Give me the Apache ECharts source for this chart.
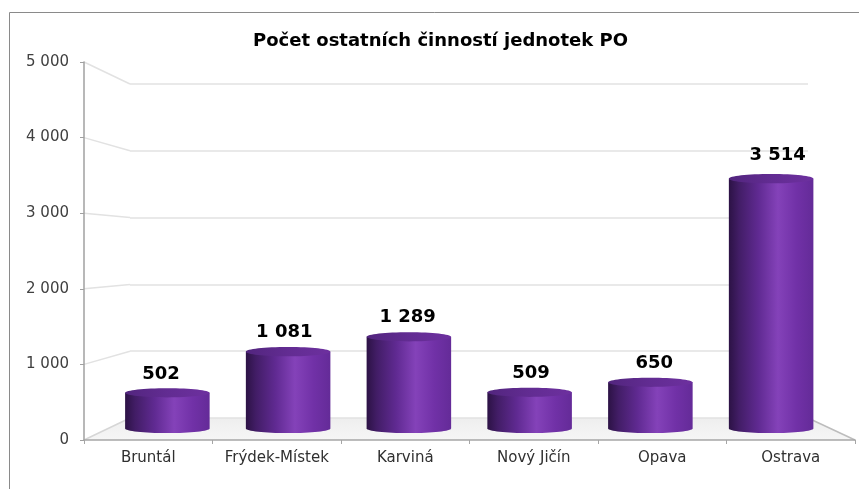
<!DOCTYPE html>
<html>
<head>
<meta charset="utf-8">
<script src="https://cdn.jsdelivr.net/npm/echarts@6/dist/echarts.min.js"></script>
<style>
  html, body { margin: 0; padding: 0; background: #ffffff; }
  #chart { width: 859px; height: 489px; }
</style>
</head>
<body>
<div id="chart"></div>
<script>
// Chart data
const chartTitle = 'Počet ostatních činností jednotek PO';
const categories = ['Bruntál', 'Frýdek-Místek', 'Karviná', 'Nový Jičín', 'Opava', 'Ostrava'];
const values = [502, 1081, 1289, 509, 650, 3514];
const valueLabels = ['502', '1 081', '1 289', '509', '650', '3 514'];
const yTickValues = [0, 1000, 2000, 3000, 4000, 5000];
const yTickLabels = ['0', '1 000', '2 000', '3 000', '4 000', '5 000'];

const FONT = '"DejaVu Sans", "Liberation Sans", sans-serif';
const Y_MIN = 0, Y_MAX = 5000, Y_STEP = 1000;

// Pseudo-3D layout: front plane (visible axes), back wall, mid plane
// for the cylinder bodies and a plane for the value labels.
const W = 859, H = 489;
const frontPlane = { left: 84, right: 4, top: 62, bottom: 49 };
const backPlane  = { left: 130, right: 51, top: 84, bottom: 71 };
const midPlane   = { left: 107, right: 27.5, top: 73, bottom: 60.5 };
const labelPlane = { left: 99.3, right: 19.7, top: 69.3, bottom: 57 };

const chart = echarts.init(document.getElementById('chart'), null, { renderer: 'canvas' });

const hiddenCat = (grid) => ({
  type: 'category', gridIndex: grid, data: categories, boundaryGap: true, show: false
});
const hiddenVal = (grid, extra) => Object.assign({
  type: 'value', gridIndex: grid, min: Y_MIN, max: Y_MAX, interval: Y_STEP,
  axisLine: { show: false }, axisTick: { show: false }, axisLabel: { show: false },
  splitLine: { show: false }
}, extra || {});

const bodyGradient = () => new echarts.graphic.LinearGradient(0, 0, 1, 0, [
  { offset: 0.00, color: '#2c1245' },
  { offset: 0.12, color: '#421d66' },
  { offset: 0.35, color: '#602a92' },
  { offset: 0.58, color: '#8442b9' },
  { offset: 0.80, color: '#7131a7' },
  { offset: 1.00, color: '#642b98' }
]);
const topGradient = () => new echarts.graphic.LinearGradient(0, 0, 1, 0, [
  { offset: 0.0, color: '#52257e' },
  { offset: 0.5, color: '#622c92' },
  { offset: 1.0, color: '#6d309f' }
]);

function renderCylinder(params, api) {
  const idx = api.value(0);
  const v = api.value(1);
  const base = api.coord([idx, 0]);
  const top = api.coord([idx, v]);
  const w = api.size([1, 0])[0] * 0.7;
  const rx = w / 2, ry = 4.6;
  return {
    type: 'group',
    children: [
      { type: 'ellipse', shape: { cx: base[0], cy: base[1], rx: rx, ry: ry },
        style: { fill: bodyGradient() } },
      { type: 'rect', shape: { x: base[0] - rx, y: top[1], width: w, height: base[1] - top[1] },
        style: { fill: bodyGradient() } },
      { type: 'ellipse', shape: { cx: top[0], cy: top[1], rx: rx, ry: ry },
        style: { fill: topGradient() } }
    ]
  };
}

function renderValueLabel(params, api) {
  const p = api.coord([api.value(0), api.value(1)]);
  return {
    type: 'text',
    x: p[0],
    y: p[1] - 21.6,
    style: {
      text: valueLabels[params.dataIndex],
      fill: '#000000',
      font: 'bold 18px ' + FONT,
      align: 'center', verticalAlign: 'middle',
      textAlign: 'center', textVerticalAlign: 'middle'
    }
  };
}

const seriesData = values.map((v, i) => [i, v]);

chart.setOption({
  animation: false,
  backgroundColor: '#ffffff',
  grid: [
    Object.assign({ containLabel: false }, frontPlane),
    Object.assign({ containLabel: false }, backPlane),
    Object.assign({ containLabel: false }, midPlane),
    Object.assign({ containLabel: false }, labelPlane)
  ],
  xAxis: [
    {
      type: 'category', gridIndex: 0, data: categories, boundaryGap: true, z: 4,
      axisLine: { show: true, lineStyle: { color: '#a6a6a6', width: 1.5 } },
      axisTick: { show: true, length: 4, inside: false, alignWithLabel: false, interval: 0,
                  lineStyle: { color: '#a6a6a6', width: 1 } },
      axisLabel: { color: '#303030', fontFamily: FONT, fontSize: 15, margin: 11,
                   interval: 0, hideOverlap: false },
      splitLine: { show: false }
    },
    hiddenCat(1), hiddenCat(2), hiddenCat(3)
  ],
  yAxis: [
    {
      type: 'value', gridIndex: 0, min: Y_MIN, max: Y_MAX, interval: Y_STEP, z: 4,
      axisLine: { show: true, lineStyle: { color: '#a0a0a0', width: 1.5 } },
      axisTick: { show: true, length: 4, lineStyle: { color: '#a0a0a0', width: 1 } },
      axisLabel: {
        color: '#404040', fontFamily: FONT, fontSize: 15, margin: 15,
        formatter: (val) => yTickLabels[yTickValues.indexOf(val)]
      },
      splitLine: { show: false }
    },
    hiddenVal(1, { show: true, z: 1,
      splitLine: { show: true, lineStyle: { color: '#e2e2e2', width: 1.5 } } }),
    hiddenVal(2),
    hiddenVal(3)
  ],
  series: [
    {
      type: 'custom', name: 'cylinders', xAxisIndex: 2, yAxisIndex: 2, z: 5,
      renderItem: renderCylinder, data: seriesData
    },
    {
      type: 'custom', name: 'labels', xAxisIndex: 3, yAxisIndex: 3, z: 6,
      renderItem: renderValueLabel, data: seriesData
    }
  ]
});

// Side wall, floor, frame and title, placed from the axes' own pixel mapping.
const yFront = (v) => chart.convertToPixel({ yAxisIndex: 0 }, v);
const yBack = (v) => chart.convertToPixel({ yAxisIndex: 1 }, v);
const fL = frontPlane.left, fR = W - frontPlane.right;
const bL = backPlane.left, bR = W - backPlane.right;

const graphics = [];
graphics.push({
  type: 'rect', z: 0, silent: true,
  shape: { x: 9.5, y: 12.5, width: 900, height: 500 },
  style: { fill: 'none', stroke: '#8a8a8a', lineWidth: 1 }
});
graphics.push({
  type: 'polygon', z: 0, silent: true,
  shape: { points: [[fL, yFront(0)], [bL, yBack(0)], [bR, yBack(0)], [fR, yFront(0)]] },
  style: {
    fill: new echarts.graphic.LinearGradient(0, 0, 0, 1, [
      { offset: 0, color: '#eeeeee' }, { offset: 1, color: '#f6f6f6' }
    ])
  }
});
graphics.push({
  type: 'line', z: 1, silent: true,
  shape: { x1: fL, y1: yFront(0), x2: bL, y2: yBack(0) },
  style: { stroke: '#d6d6d6', lineWidth: 1.5 }
});
graphics.push({
  type: 'line', z: 1, silent: true,
  shape: { x1: bR, y1: yBack(0), x2: fR, y2: yFront(0) },
  style: { stroke: '#bdbdbd', lineWidth: 1.5 }
});
yTickValues.filter(v => v > 0).forEach(v => {
  graphics.push({
    type: 'line', z: 1, silent: true,
    shape: { x1: fL, y1: yFront(v), x2: bL, y2: yBack(v) },
    style: { stroke: '#e2e2e2', lineWidth: 1.5 }
  });
});
graphics.push({
  type: 'text', z: 10, silent: true,
  x: 440.5, y: 41,
  style: {
    text: chartTitle, fill: '#000000', font: 'bold 18px ' + FONT,
    align: 'center', verticalAlign: 'middle',
    textAlign: 'center', textVerticalAlign: 'middle'
  }
});

chart.setOption({ graphic: graphics });
</script>
</body>
</html>
